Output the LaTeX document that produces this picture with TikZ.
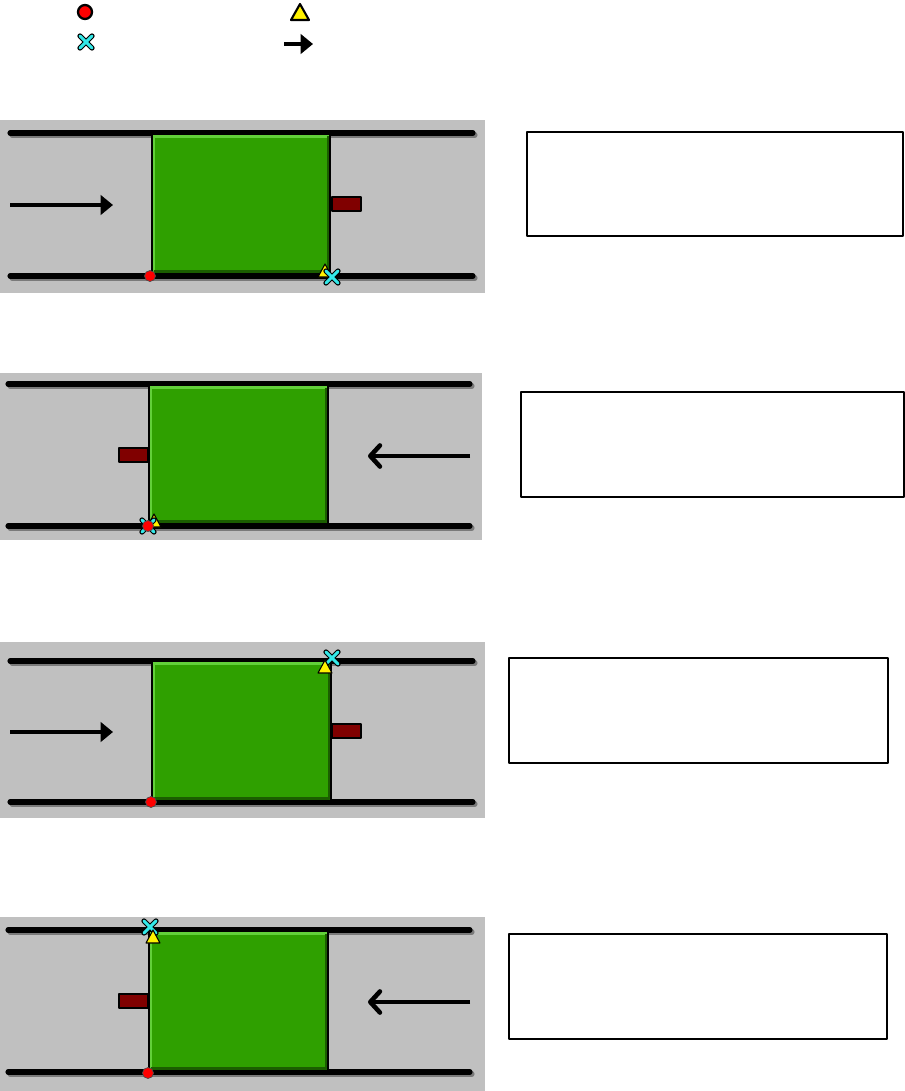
\documentclass[tikz,border=0pt]{standalone}
\usepackage{tikz}
\usetikzlibrary{arrows.meta}
\usepackage{xcolor}
\definecolor{trackgray}{HTML}{C0C0C0}
\definecolor{railshadow}{HTML}{7A7A7A}
\definecolor{doorgreen}{HTML}{2FA000}
\definecolor{doorlight}{HTML}{62D03A}
\definecolor{doordark}{HTML}{1B5E00}
\definecolor{stopred}{HTML}{800000}
\definecolor{markcyan}{HTML}{33E8E8}
\tikzset{
  track/.style={fill=trackgray},
  rail/.style={line width=2.9pt,line cap=round},
  rail shadow/.style={line width=2.9pt,draw=railshadow,line cap=round},
  stopper/.style={fill=stopred,draw=black,line width=.6pt},
  move arrow/.style={line width=1.8pt,-{Triangle[length=7pt,width=11pt]}},
  back arrow/.style={line width=1.8pt,-{Straight Barb[length=5.5pt,width=12pt,line width=2.6pt,round]}},
  note box/.style={draw,line width=1pt}
}
\newcommand{\StartDot}[1]{\filldraw[fill=red,draw=black!70,line width=.4pt] (#1) circle (5.5);}
\newcommand{\EndTri}[1]{\filldraw[fill=yellow,draw=black,line width=.6pt,shift={(#1)}]
  (-7,6)--(7,6)--(0,-7)--cycle;}
\newcommand{\EndCross}[1]{%
  \draw[line width=3pt,line cap=round,shift={(#1)}] (-6,-6)--(6,6) (-6,6)--(6,-6);
  \draw[markcyan,line width=1.7pt,line cap=round,shift={(#1)}] (-6,-6)--(6,6) (-6,6)--(6,-6);}
\newcommand{\DoorBox}[4]{%
  \fill[doorgreen] (#1,#2) rectangle (#3,#4);
  \draw[doorlight,line width=1.5pt] (#1+1.5,#4-1)--(#1+1.5,#2+1.5)--(#3-1,#2+1.5);
  \draw[doordark,line width=1.5pt] (#1+1.5,#4-1.5)--(#3-1.5,#4-1.5)--(#3-1.5,#2+1.5);
  \draw[line width=.6pt] (#1,#2)--(#1,#4) (#3,#2)--(#3,#4);}
\newcommand{\Rails}[4]{%
  \draw[rail shadow] (#1+2,#3+2)--(#2+2,#3+2) (#1+2,#4+2)--(#2+2,#4+2);
  \draw[rail] (#1,#3)--(#2,#3) (#1,#4)--(#2,#4);}

\begin{document}
\begin{tikzpicture}[x=0.02cm,y=-0.02cm,line join=round]
  \useasboundingbox (0,0) rectangle (905,1091);

  % legend
  \filldraw[fill=red,draw=black,line width=1.3pt] (85,12) circle (7);
  \filldraw[fill=yellow,draw=black,line width=1.2pt] (291,20)--(309,20)--(300,4)--cycle;
  \EndCross{86,42}
  \coordinate (lgs) at (284,44);
  \coordinate (lge) at (313,44);
  \draw[move arrow] (lgs)--(lge);

  % panel 1
  \fill[track] (0,120) rectangle (485,293);
  \Rails{10}{473}{133}{276}
  \DoorBox{152}{135}{330}{273}
  \filldraw[stopper] (332,197) rectangle (361,211);
  \coordinate (a1s) at (10,205);
  \coordinate (a1e) at (113,205);
  \draw[move arrow] (a1s)--(a1e);
  \StartDot{150,276}
  \EndTri{325,271}
  \EndCross{332,277}
  \draw[note box] (527,132) rectangle (903,236);

  % panel 2
  \fill[track] (0,373) rectangle (482,540);
  \Rails{8}{470}{384}{526}
  \DoorBox{149}{386}{328}{523}
  \filldraw[stopper] (119,448) rectangle (148,462);
  \coordinate (a2s) at (470,456);
  \coordinate (a2e) at (368,456);
  \draw[back arrow] (a2s)--(a2e);
  \EndTri{154,521}
  \EndCross{148,526}
  \StartDot{148,526}
  \draw[note box] (521,392) rectangle (904,497);

  % panel 3
  \fill[track] (0,642) rectangle (485,818);
  \Rails{10}{473}{661}{802}
  \DoorBox{152}{662}{331}{800}
  \filldraw[stopper] (332,724) rectangle (361,738);
  \coordinate (a3s) at (10,732);
  \coordinate (a3e) at (113,732);
  \draw[move arrow] (a3s)--(a3e);
  \StartDot{151,802}
  \EndCross{332,658}
  \EndTri{325,667}
  \draw[note box] (509,658) rectangle (888,763);

  % panel 4
  \fill[track] (0,917) rectangle (485,1091);
  \Rails{8}{470}{930}{1072}
  \DoorBox{149}{932}{328}{1070}
  \filldraw[stopper] (119,994) rectangle (148,1008);
  \coordinate (a4s) at (470,1002);
  \coordinate (a4e) at (368,1002);
  \draw[back arrow] (a4s)--(a4e);
  \StartDot{148,1073}
  \EndCross{150,927}
  \EndTri{153,937}
  \draw[note box] (509,934) rectangle (887,1039);
\end{tikzpicture}
\end{document}
